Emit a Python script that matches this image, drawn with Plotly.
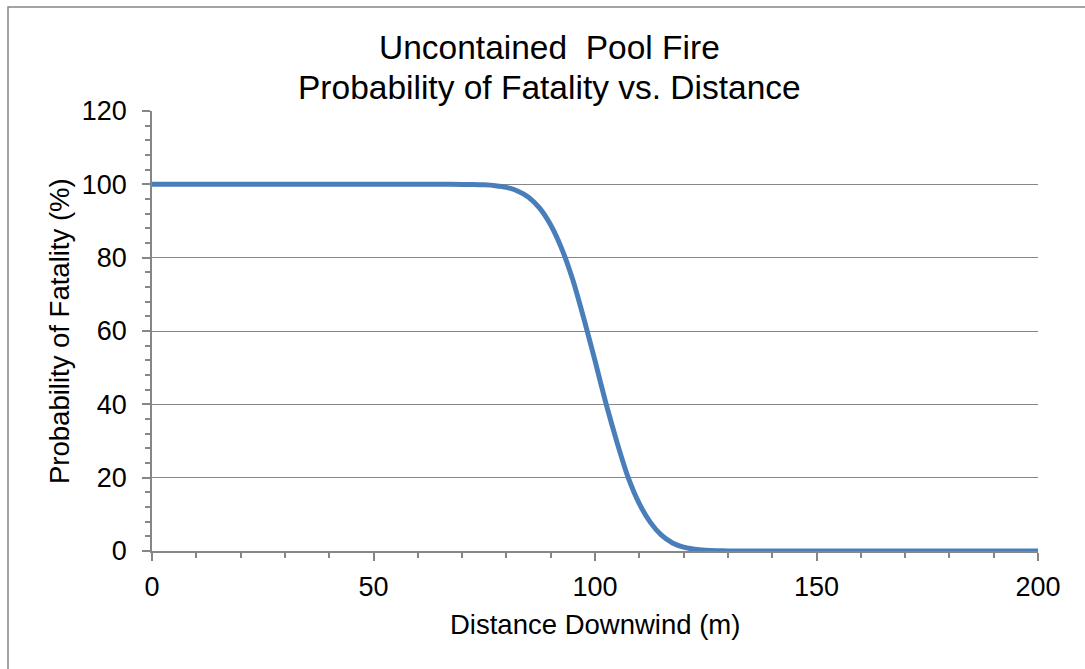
import plotly.graph_objects as go

# Data
distance_m = [0, 10, 20, 30, 40, 50, 60, 65, 70, 72.5, 75, 77.5, 80, 82.5, 85, 87.5,
              90, 92.5, 95, 97.5, 100, 102.5, 105, 107.5, 110, 112.5, 115, 117.5,
              120, 122.5, 125, 127.5, 130, 135, 140, 150, 160, 170, 180, 190, 200]
fatality_pct = [100, 100, 100, 100, 100, 100, 100, 100, 99.98, 99.95, 99.86, 99.64,
                99.18, 98.2, 96.5, 93.5, 88.9, 82.4, 73.9, 63.3, 51.9, 40.1, 29.5,
                20.0, 12.9, 7.8, 4.3, 2.2, 1.05, 0.47, 0.19, 0.07, 0.03, 0, 0, 0, 0,
                0, 0, 0, 0]

title_lines = ["Uncontained  Pool Fire", "Probability of Fatality vs. Distance"]
x_title = "Distance Downwind (m)"
y_title = "Probability of Fatality (%)"

GRAY = "#868686"
FONT = "Liberation Sans, Arial, sans-serif"

L, R, T, B = 152, 47, 111, 118
W, H = 1085, 669
pw, ph = W - L - R, H - T - B

def px_x(p):
    return (p - L) / pw

def px_y(p):
    return (H - B - p) / ph

fig = go.Figure()
fig.add_trace(go.Scatter(
    x=distance_m, y=fatality_pct, mode="lines",
    line=dict(color="#4a7ebb", width=5, shape="spline", smoothing=0.6),
    showlegend=False, hoverinfo="skip",
))

fig.update_layout(
    width=W, height=H,
    margin=dict(l=L, r=R, t=T, b=B, pad=0),
    paper_bgcolor="white", plot_bgcolor="white",
    font=dict(family=FONT, color="black", size=27),
    showlegend=False,
)

fig.update_xaxes(
    range=[0, 200], dtick=50, tick0=0,
    showgrid=False, zeroline=False,
    showline=True, linecolor=GRAY, linewidth=1.5,
    ticks="outside", ticklen=8, tickwidth=1.5, tickcolor=GRAY,
    ticklabelstandoff=3,
    tickfont=dict(size=27, family=FONT, color="black"),
    minor=dict(dtick=10, ticks="outside", ticklen=5, tickwidth=1.5, tickcolor=GRAY, showgrid=False),
)
fig.update_yaxes(
    range=[0, 120], dtick=20, tick0=0,
    showgrid=True, gridcolor=GRAY, gridwidth=1,
    zeroline=False,
    showline=True, linecolor=GRAY, linewidth=1.5,
    ticks="outside", ticklen=8, tickwidth=1.5, tickcolor=GRAY,
    ticklabelstandoff=10,
    tickfont=dict(size=27, family=FONT, color="black"),
    minor=dict(dtick=4, ticks="outside", ticklen=5, tickwidth=1.5, tickcolor=GRAY, showgrid=False),
)

# Titles as annotations for precise placement
fig.add_annotation(text=title_lines[0], xref="paper", yref="paper",
                   x=px_x(549), y=px_y(47.5), xanchor="center", yanchor="middle",
                   showarrow=False, font=dict(size=33.5, family=FONT, color="black"))
fig.add_annotation(text=title_lines[1], xref="paper", yref="paper",
                   x=px_x(549), y=px_y(87.5), xanchor="center", yanchor="middle",
                   showarrow=False, font=dict(size=33.5, family=FONT, color="black"))
fig.add_annotation(text=x_title, xref="paper", yref="paper",
                   x=px_x(595), y=px_y(624), xanchor="center", yanchor="middle",
                   showarrow=False, font=dict(size=27.5, family=FONT, color="black"))
fig.add_annotation(text=y_title, xref="paper", yref="paper",
                   x=px_x(59), y=px_y(331), xanchor="center", yanchor="middle",
                   textangle=-90, showarrow=False,
                   font=dict(size=27.5, family=FONT, color="black"))

# Outer chart-area border (left and top edges visible)
fig.add_shape(type="rect", xref="paper", yref="paper",
              x0=px_x(8), y0=px_y(700), x1=px_x(1100), y1=px_y(7),
              line=dict(color=GRAY, width=1.5), fillcolor="rgba(0,0,0,0)", layer="below")

fig.write_html("out.html")
